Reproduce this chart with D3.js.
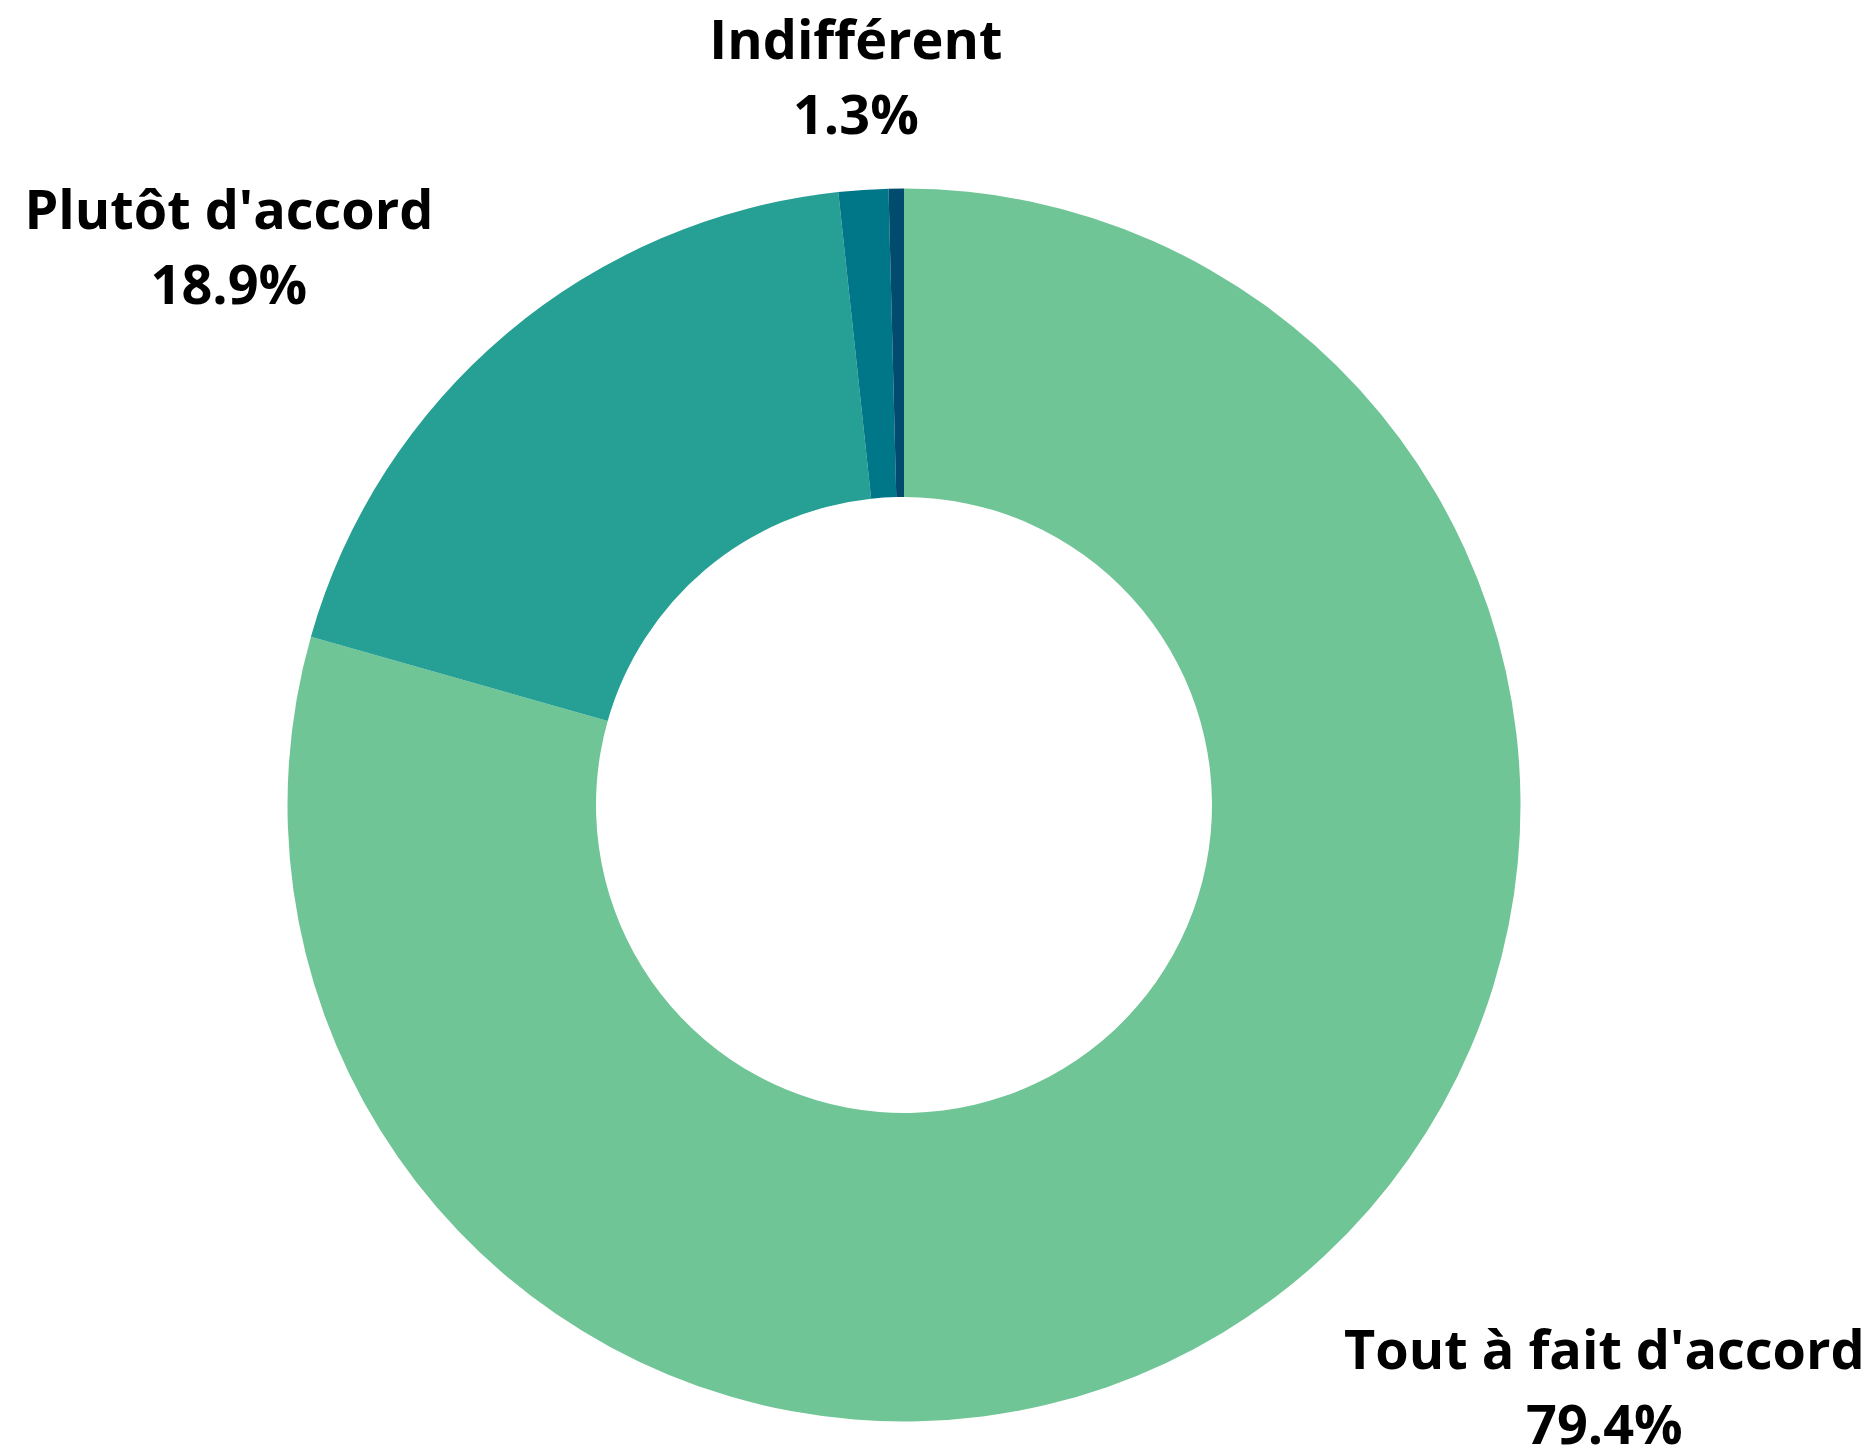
<!DOCTYPE html>
<html>
<head>
<meta charset="utf-8">
<script src="https://cdn.jsdelivr.net/npm/d3@7"></script>
<style>
  html, body { margin: 0; padding: 0; background: #fff; }
  svg { display: block; }
</style>
</head>
<body>
<div id="chart"></div>
<script>
// data
const categories = ["Tout à fait d'accord", "Plutôt d'accord", "Indifférent", "Pas d'accord"];
const shares = [79.4, 18.9, 1.3, 0.4];
const sliceColors = ['#70c596', '#26a094', '#007788', '#014c6e'];

const width = 1868;
const height = 1448;
const cx = 904;
const cy = 805;
const outerR = 616.5;
const innerR = 308;
const labelR = outerR * 1.184;
const fontSize = 54;
const lineGap = 75;
const capH = 39;

const svg = d3.select('#chart')
  .append('svg')
  .attr('width', width)
  .attr('height', height);

const g = svg.append('g')
  .attr('transform', 'translate(' + cx + ',' + cy + ')');

const pie = d3.pie()
  .sort(null)
  .value(d => d.value)
  .startAngle(0)
  .endAngle(2 * Math.PI);

const rows = categories.map((c, i) => ({ name: c, value: shares[i], color: sliceColors[i] }));
const arcs = pie(rows);

const arc = d3.arc()
  .innerRadius(innerR)
  .outerRadius(outerR);

g.selectAll('path.slice')
  .data(arcs)
  .enter()
  .append('path')
  .attr('class', 'slice')
  .attr('d', arc)
  .attr('fill', d => d.data.color);

// labels (the tiny last slice has none in the reference)
const fmt = d3.format('.1f');
const labelled = arcs.filter(d => d.data.value >= 1);

labelled.forEach(d => {
  const mid = (d.startAngle + d.endAngle) / 2;
  const ax = labelR * Math.sin(mid);
  const ay = -labelR * Math.cos(mid);

  const lbl = g.append('text')
    .attr('font-family', '"Open Sans", sans-serif')
    .attr('font-weight', 700)
    .attr('font-size', fontSize)
    .attr('fill', '#000')
    .attr('text-anchor', 'middle');

  const l1 = lbl.append('tspan').text(d.data.name);
  const l2 = lbl.append('tspan').text(fmt(d.data.value) + '%');

  const boxW = Math.max(l1.node().getComputedTextLength(), l2.node().getComputedTextLength());
  let x = ax;
  if (Math.sin(mid) > 0.3) x = ax + boxW / 2;
  else if (Math.sin(mid) < -0.3) x = ax - boxW / 2;

  const y1 = ay + (capH - lineGap) / 2;
  l1.attr('x', x).attr('y', y1);
  l2.attr('x', x).attr('y', y1 + lineGap);
});
</script>
</body>
</html>
